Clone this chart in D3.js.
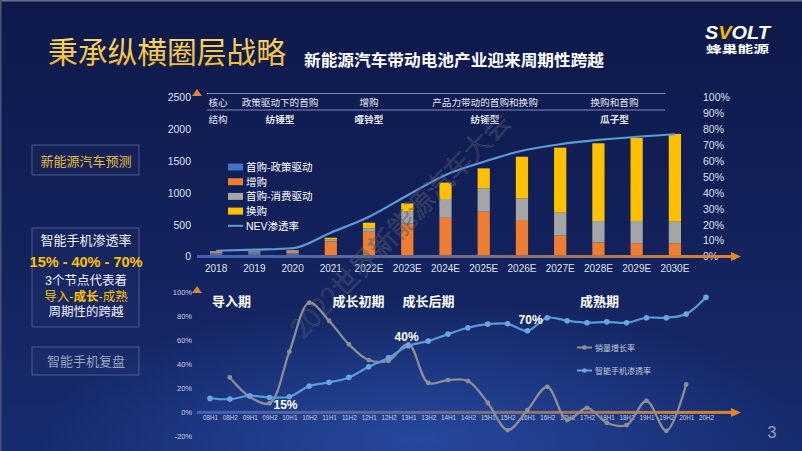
<!DOCTYPE html>
<html><head><meta charset="utf-8">
<script src="https://cdn.jsdelivr.net/npm/d3@7"></script>
<style>
body{margin:0;background:#101c4e;}
svg{display:block;font-family:"Liberation Sans","Noto Sans CJK SC",sans-serif;}
</style></head>
<body><svg id="c" width="802" height="451"></svg>
<script>
// ---------- DATA ----------
const years = ["2018","2019","2020","2021","2022E","2023E","2024E","2025E","2026E","2027E","2028E","2029E","2030E"];
const policyFirst   = [50, 60, 55, 10, 0, 0, 0, 0, 0, 0, 0, 0, 0];          // 首购-政策驱动
const addOn         = [25, 20, 35, 226, 390, 522, 608, 704, 574, 327, 223, 208, 208]; // 增购
const consumerFirst = [11, 11, 12, 31, 53, 182, 296, 368, 341, 362, 335, 351, 340];   // 首购-消费驱动
const replacement   = [0, 0, 0, 28, 88, 132, 258, 314, 654, 1022, 1222, 1305, 1379];  // 换购
const nevRate       = [3.6, 4.3, 5.2, 15, 25, 38.4, 51.3, 59.6, 66.5, 70.6, 73.3, 75.3, 76.9]; // NEV渗透率 %
const seriesNames   = ["首购-政策驱动","增购","首购-消费驱动","换购","NEV渗透率"];
const leftTicks  = [0, 500, 1000, 1500, 2000, 2500];
const rightTicks = [0,10,20,30,40,50,60,70,80,90,100];
const topDividers = ["2021","2023E","2027E"];
const coreRow  = ["政策驱动下的首购","增购","产品力带动的首购和换购","换购和首购"];
const shapeRow = ["纺锤型","哑铃型","纺锤型","瓜子型"];

const halves = ["08H1","08H2","09H1","09H2","10H1","10H2","11H1","11H2","12H1","12H2","13H1","13H2","14H1","14H2","15H1","15H2","16H1","16H2","17H1","17H2","18H1","18H2","19H1","19H2","20H1","20H2"];
const salesGrowth = [null,29,13,7.5,50.2,90.9,76,56.4,43.4,42.8,56.6,24.5,26.8,26,8,-14.7,1.9,21.2,-6.4,3.8,-8.6,-10.5,9.6,-15.3,23.2,null];
const smartPen    = [11.6,11,13.8,12.4,13,21.8,24.9,29,37.8,45.3,55.2,59.1,64.9,70.2,73.2,73.5,67.7,78.5,76,74.3,75.1,74.3,78.5,78.5,81.5,95.4];
const bottomTicks = [-20,0,20,40,60,80,100];
const bottomDividers = ["09H2","12H2","15H2"];
const phases = ["导入期","成长初期","成长后期","成熟期"];
const bottomSeries = ["销量增长率","智能手机渗透率"];

// ---------- SETUP ----------
const svg = d3.select("#c");
const defs = svg.append("defs");
const C = {blue:"#4472C4", orange:"#ED7D31", gray:"#A5A5A5", yellow:"#FFC000", line:"#5B9BD5", text:"#dde2ef"};
const LATIN_CJK = "Liberation Sans, Noto Sans CJK SC, sans-serif";

// background
const bg = defs.append("linearGradient").attr("id","bg").attr("x1",0).attr("y1",0).attr("x2",0).attr("y2",1);
bg.append("stop").attr("offset",0).attr("stop-color","#0e194a");
bg.append("stop").attr("offset",0.55).attr("stop-color","#13225c");
bg.append("stop").attr("offset",1).attr("stop-color","#172c70");
const rg = defs.append("radialGradient").attr("id","glow").attr("cx",0.5).attr("cy",0.5).attr("r",0.5);
rg.append("stop").attr("offset",0).attr("stop-color","#2a52ad").attr("stop-opacity",0.75);
rg.append("stop").attr("offset",1).attr("stop-color","#2a52ad").attr("stop-opacity",0);
svg.append("rect").attr("width",802).attr("height",451).attr("fill","url(#bg)");
svg.append("ellipse").attr("cx",420).attr("cy",440).attr("rx",380).attr("ry",140).attr("fill","url(#glow)");
svg.append("rect").attr("width",802).attr("height",1.5).attr("fill","#6a7090");
svg.append("rect").attr("width",1.5).attr("height",451).attr("fill","#4a5478");

// axis gradients
const hg = defs.append("linearGradient").attr("id","hgrad").attr("x1",0).attr("y1",0).attr("x2",1).attr("y2",0);
hg.append("stop").attr("offset",0).attr("stop-color","#3d62b8");
hg.append("stop").attr("offset",0.45).attr("stop-color","#6a6a8a");
hg.append("stop").attr("offset",1).attr("stop-color","#de8428");
const vg = defs.append("linearGradient").attr("id","vgrad").attr("x1",0).attr("y1",1).attr("x2",0).attr("y2",0);
vg.append("stop").attr("offset",0).attr("stop-color","#3d62b8");
vg.append("stop").attr("offset",1).attr("stop-color","#d98530");
const gl = defs.append("filter").attr("id","gl").attr("x","-50%").attr("y","-50%").attr("width","200%").attr("height","200%");
gl.append("feGaussianBlur").attr("stdDeviation",1.2).attr("result","b");
const fm = gl.append("feMerge"); fm.append("feMergeNode").attr("in","b"); fm.append("feMergeNode").attr("in","SourceGraphic");

// ---------- HEADER ----------
const tg = defs.append("linearGradient").attr("id","tgold").attr("x1",0).attr("y1",0).attr("x2",0).attr("y2",1);
tg.append("stop").attr("offset",0).attr("stop-color","#ffe06a");
tg.append("stop").attr("offset",1).attr("stop-color","#eeb52a");
svg.append("text").attr("x",48).attr("y",50).attr("dominant-baseline","central")
  .attr("font-family","Noto Sans CJK SC").attr("font-size",30).attr("fill","url(#tgold)")
  .attr("textLength",238).attr("lengthAdjust","spacingAndGlyphs").text("秉承纵横圈层战略");
svg.append("text").attr("x",304).attr("y",59).attr("dominant-baseline","central")
  .attr("font-family","Noto Sans CJK SC").attr("font-weight","bold").attr("font-size",15.8).attr("fill","#ffffff")
  .attr("textLength",300).attr("lengthAdjust","spacingAndGlyphs").text("新能源汽车带动电池产业迎来周期性跨越");
const logo = svg.append("text").attr("x",705).attr("y",38.5).attr("font-size",18).attr("font-weight","900")
  .attr("font-style","italic").attr("fill","#fff").attr("textLength",65).attr("lengthAdjust","spacingAndGlyphs");
logo.append("tspan").text("S"); logo.append("tspan").attr("fill","#F7B500").text("V"); logo.append("tspan").text("OLT");
svg.append("text").attr("x",706).attr("y",49).attr("dominant-baseline","central").attr("font-family",LATIN_CJK)
  .attr("font-size",10.5).attr("font-weight","bold").attr("fill","#fff").attr("textLength",63).attr("lengthAdjust","spacingAndGlyphs").text("蜂巢能源");

// ---------- LEFT PANELS ----------
function box(y0,y1){ svg.append("rect").attr("x",32).attr("y",y0).attr("width",107).attr("height",y1-y0)
  .attr("fill","rgba(255,255,255,0.02)").attr("stroke","#4c5a92").attr("stroke-width",1); }
function ptxt(y,t,col,size,bold){ return svg.append("text").attr("x",86).attr("y",y).attr("text-anchor","middle")
  .attr("dominant-baseline","central").attr("font-family",LATIN_CJK).attr("font-size",size||13)
  .attr("font-weight",bold?"bold":"normal").attr("fill",col).text(t); }
box(145,175); ptxt(161.5,"新能源汽车预测","#E8B83A");
box(228,327);
ptxt(240,"智能手机渗透率","#f0f2f8");
svg.append("text").attr("x",86).attr("y",261.5).attr("text-anchor","middle").attr("dominant-baseline","central")
  .attr("font-size",14.5).attr("font-weight","bold").attr("fill","#FFC000").text("15% - 40% - 70%");
ptxt(281,"3个节点代表着","#f0f2f8",12.5);
const ph = ptxt(296.5,"","#FFC000",12.5);
ph.append("tspan").text("导入-"); ph.append("tspan").attr("font-weight","bold").text("成长"); ph.append("tspan").text("-成熟");
ptxt(312,"周期性的跨越","#f0f2f8",12.5);
box(347,375); ptxt(361.5,"智能手机复盘","#9aa3bd");

// ---------- TOP CHART ----------
const xT = d3.scaleBand().domain(years).range([197, 694]).paddingInner(0.68).paddingOuter(0.34);
const yL = d3.scaleLinear().domain([0,2500]).range([256.5, 97.5]);
const yR = d3.scaleLinear().domain([0,100]).range([256.5, 97.5]);

const table = years.map((y,i)=>({year:y, p:policyFirst[i], a:addOn[i], c:consumerFirst[i], r:replacement[i]}));
const keys = ["p","a","c","r"], kcol = {p:C.blue,a:C.orange,c:C.gray,r:C.yellow};
const stack = d3.stack().keys(keys)(table);

// header table lines
[93.5,110].forEach(y=> svg.append("line").attr("x1",207).attr("x2",665).attr("y1",y).attr("y2",y)
  .attr("stroke","#7d8bbd").attr("stroke-width",1));

// left y labels
svg.append("g").attr("transform","translate(191,0)").call(d3.axisLeft(yL).tickValues(leftTicks).tickFormat(d3.format("d")).tickSize(0).tickPadding(0))
  .call(g=>g.select(".domain").remove())
  .selectAll("text").attr("font-size",10.5).attr("fill",C.text).attr("font-family","Liberation Sans");
// right y labels
svg.append("g").attr("transform","translate(703,0)").call(d3.axisRight(yR).tickValues(rightTicks).tickFormat(d=>d+"%").tickSize(0).tickPadding(0))
  .call(g=>g.select(".domain").remove())
  .selectAll("text").attr("font-size",10.5).attr("fill",C.text).attr("font-family","Liberation Sans");
// x labels
svg.append("g").attr("transform","translate(0,265)").call(d3.axisBottom(xT).tickSize(0).tickPadding(0))
  .call(g=>g.select(".domain").remove())
  .selectAll("text").attr("font-size",10).attr("fill",C.text).attr("font-family","Liberation Sans");

// bars
stack.forEach(s=>{
  svg.append("g").selectAll("rect").data(s).join("rect")
    .attr("x",d=>xT(d.data.year)).attr("width",xT.bandwidth())
    .attr("y",d=>yL(d[1])).attr("height",d=>Math.max(0,yL(d[0])-yL(d[1])))
    .attr("fill",kcol[s.key]);
});
// dividers to bar tops
const totals = {}; table.forEach(d=>totals[d.year]=d.p+d.a+d.c+d.r);
topDividers.forEach(y=> svg.append("line").attr("x1",xT(y)+xT.bandwidth()/2).attr("x2",xT(y)+xT.bandwidth()/2)
  .attr("y1",93.5).attr("y2",yL(totals[y])).attr("stroke","#7fb6f2").attr("stroke-width",1.8).attr("filter","url(#gl)"));

// NEV line
const nevLine = d3.line().x((d,i)=>xT(years[i])+xT.bandwidth()/2).y(d=>yR(d)).curve(d3.curveMonotoneX);
svg.append("path").attr("d",nevLine(nevRate)).attr("fill","none").attr("stroke",C.line).attr("stroke-width",2.2);

// table text
function htxt(x,y,t,bold){ svg.append("text").attr("x",x).attr("y",y).attr("text-anchor","middle").attr("dominant-baseline","central")
  .attr("font-family","Noto Sans CJK SC").attr("font-size",9.6).attr("font-weight",bold?"bold":"normal").attr("fill","#e4e8f3").text(t); }
htxt(218,102,"核心"); htxt(218,118.5,"结构");
const colCenters = [280, 369, 485, 614.5];
coreRow.forEach((t,i)=>htxt(colCenters[i],102,t));
shapeRow.forEach((t,i)=>htxt(colCenters[i],118.5,t,true));

// legend
const legCols = [C.blue,C.orange,C.gray,C.yellow];
seriesNames.forEach((n,i)=>{
  const y = 167 + i*14.7;
  if(i<4) svg.append("rect").attr("x",228).attr("y",y-3.5).attr("width",15).attr("height",7).attr("fill",legCols[i]);
  else svg.append("line").attr("x1",228).attr("x2",243).attr("y1",y).attr("y2",y).attr("stroke",C.line).attr("stroke-width",2);
  svg.append("text").attr("x",246).attr("y",y).attr("dominant-baseline","central").attr("font-size",10.5)
    .attr("fill","#ffffff").text(n);
});

// axes lines with arrows
function axes(y0, yTop){
  svg.append("line").attr("x1",197).attr("x2",197).attr("y1",y0).attr("y2",yTop+6).attr("stroke","url(#vgrad)").attr("stroke-width",2.5);
  svg.append("path").attr("d",`M${192},${yTop+7}L197,${yTop}L202,${yTop+7}Z`).attr("fill","#d98530");
  svg.append("rect").attr("x",197).attr("y",y0-1.5).attr("width",535).attr("height",3).attr("fill","url(#hgrad)");
  svg.append("path").attr("d",`M731,${y0-4.5}L741,${y0}L731,${y0+4.5}Z`).attr("fill","#e08628");
}
axes(256.5, 89);

// ---------- BOTTOM CHART ----------
const xB = d3.scalePoint().domain(halves).range([210, 706]);
const yB = d3.scaleLinear().domain([-20,100]).range([436.5, 291.8]);

svg.append("g").attr("transform","translate(192,0)").call(d3.axisLeft(yB).tickValues(bottomTicks).tickFormat(d=>d+"%").tickSize(0).tickPadding(0))
  .call(g=>g.select(".domain").remove())
  .selectAll("text").attr("font-size",7.5).attr("fill","#c9d0e2");
svg.append("g").attr("transform","translate(0,416)").call(d3.axisBottom(xB).tickSize(0).tickPadding(0))
  .call(g=>g.select(".domain").remove())
  .selectAll("text").attr("font-size",6.3).attr("fill","#c9d0e2");

const divOff = [1, 3.5, 4.5];
bottomDividers.forEach((h,i)=> svg.append("line").attr("x1",xB(h)+divOff[i]).attr("x2",xB(h)+divOff[i])
  .attr("y1",295).attr("y2",412).attr("stroke","#6aa6ea").attr("stroke-width",1.8).attr("filter","url(#gl)"));

axes(yB(0), 286);

// watermark (under the lines)
svg.append("text").attr("transform","translate(303,340) rotate(-46)").attr("font-family","Noto Sans CJK SC")
  .attr("font-weight","300").attr("font-size",27).attr("fill","none").attr("stroke","#545870").attr("stroke-width",0.7)
  .attr("stroke-opacity",0.75).text("2022世界新能源汽车大会");

const lineB = d3.line().defined(d=>d!=null).x((d,i)=>xB(halves[i])).y(d=>yB(d)).curve(d3.curveCatmullRom.alpha(0.5));
// gray series
const gIdx = salesGrowth.map((v,i)=>({v,i})).filter(d=>d.v!=null);
svg.append("path").attr("d", d3.line().x(d=>xB(halves[d.i])).y(d=>yB(d.v)).curve(d3.curveCatmullRom.alpha(0.5))(gIdx))
  .attr("fill","none").attr("stroke","#8e8e94").attr("stroke-width",2.2);
svg.append("g").selectAll("circle").data(gIdx).join("circle").attr("cx",d=>xB(halves[d.i])).attr("cy",d=>yB(d.v))
  .attr("r",2.4).attr("fill","#8e8e94");
// blue series
svg.append("path").attr("d",lineB(smartPen)).attr("fill","none").attr("stroke",C.line).attr("stroke-width",2.2);
svg.append("g").selectAll("circle").data(smartPen).join("circle").attr("cx",(d,i)=>xB(halves[i])).attr("cy",d=>yB(d))
  .attr("r",2.8).attr("fill","#66a6e4");

// phase labels
const phasePos = [231.5, 358.5, 428.5, 599.5];
phases.forEach((p,i)=> svg.append("text").attr("x",phasePos[i]).attr("y",300.5).attr("text-anchor","middle")
  .attr("dominant-baseline","central").attr("font-family","Noto Sans CJK SC").attr("font-weight","bold")
  .attr("font-size",13).attr("fill","#ffffff").text(p));
// node annotations
[["15%","09H2",4,405],["40%","12H2",6,336.5],["70%","15H2",11,320]].forEach(a=>
  svg.append("text").attr("x",xB(a[1])+a[2]).attr("y",a[3]).attr("dominant-baseline","central")
    .attr("font-weight","bold").attr("font-size",12).attr("fill","#ffffff").text(a[0]));

// bottom legend
[["#8e8e94",347.5],["#66a6e4",370.5]].forEach((c,i)=>{
  svg.append("line").attr("x1",577).attr("x2",592).attr("y1",c[1]).attr("y2",c[1]).attr("stroke",c[0]).attr("stroke-width",2);
  svg.append("circle").attr("cx",584.5).attr("cy",c[1]).attr("r",2.3).attr("fill",c[0]);
  svg.append("text").attr("x",595).attr("y",c[1]).attr("dominant-baseline","central").attr("font-family","Noto Sans CJK SC")
    .attr("font-size",8).attr("fill","#c3cadc").text(bottomSeries[i]);
});

// page number
svg.append("text").attr("x",772).attr("y",432).attr("text-anchor","middle").attr("dominant-baseline","central")
  .attr("font-size",16).attr("fill","#9ca3b8").text("3");
</script></body></html>
